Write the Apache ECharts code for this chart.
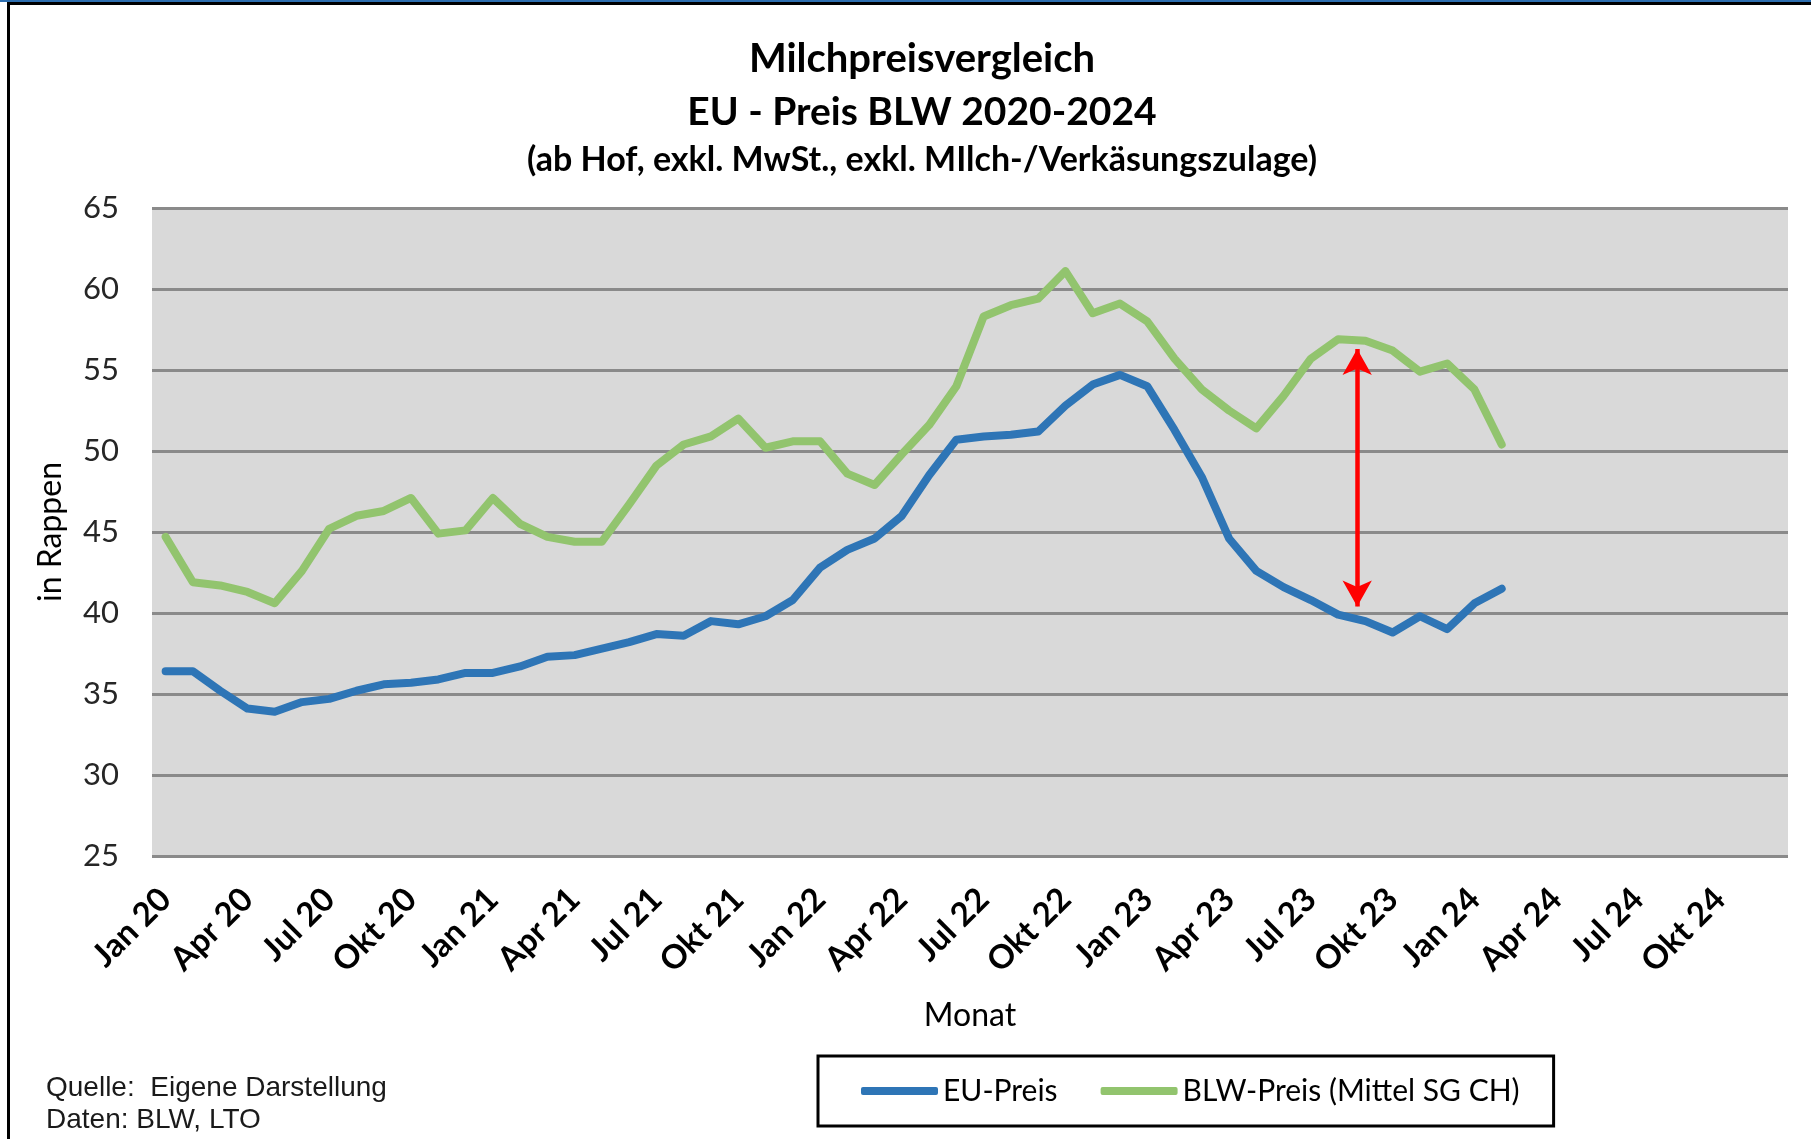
<!DOCTYPE html>
<html>
<head>
<meta charset="utf-8">
<script src="https://cdn.jsdelivr.net/npm/echarts@6/dist/echarts.min.js"></script>
<style>
  html, body { margin: 0; padding: 0; background: #fff; }
  #chart { width: 1811px; height: 1139px; }
</style>
</head>
<body>
<div id="chart"></div>
<script>
// Monate Jan 20 .. Dez 24 (Achse reicht bis Ende 2024)
var monthNames = ['Jan', 'Feb', 'Mär', 'Apr', 'Mai', 'Jun', 'Jul', 'Aug', 'Sep', 'Okt', 'Nov', 'Dez'];
var years = ['20', '21', '22', '23', '24'];

// Werte in Rappen, Jan 20 .. Feb 24
var euPreis = [
    36.4, 36.4, 35.2, 34.1, 33.9, 34.5, 34.7, 35.2, 35.6, 35.7, 35.9, 36.3,
    36.3, 36.7, 37.3, 37.4, 37.8, 38.2, 38.7, 38.6, 39.5, 39.3, 39.8, 40.8,
    42.8, 43.9, 44.6, 46.0, 48.5, 50.7, 50.9, 51.0, 51.2, 52.8, 54.1, 54.7,
    54.0, 51.3, 48.4, 44.6, 42.6, 41.6, 40.8, 39.9, 39.5, 38.8, 39.8, 39.0,
    40.6, 41.5
];
var blwPreis = [
    44.7, 41.9, 41.7, 41.3, 40.6, 42.6, 45.2, 46.0, 46.3, 47.1, 44.9, 45.1,
    47.1, 45.5, 44.7, 44.4, 44.4, 46.7, 49.1, 50.4, 50.9, 52.0, 50.2, 50.6,
    50.6, 48.6, 47.9, 49.8, 51.6, 54.0, 58.3, 59.0, 59.4, 61.1, 58.5, 59.1,
    58.0, 55.7, 53.8, 52.5, 51.4, 53.4, 55.7, 56.9, 56.8, 56.2, 54.9, 55.4,
    53.8, 50.4
];

// roter Doppelpfeil (Abstand EU / BLW), x in Monatsindex
var arrowX = 43.7;
var arrowTop = 56.3;
var arrowBottom = 40.4;

var categories = [];
for (var y = 0; y < years.length; y++) {
    for (var m = 0; m < monthNames.length; m++) {
        categories.push(monthNames[m] + ' ' + years[y]);
    }
}

var font = 'Lato, "Open Sans", sans-serif';
var chart = echarts.init(document.getElementById('chart'), null, { renderer: 'canvas' });

var option = {
    backgroundColor: '#fff',
    animation: false,
    title: [
        { text: 'Milchpreisvergleich', left: 922, top: 59, padding: 0, textAlign: 'center', textVerticalAlign: 'middle',
          textStyle: { fontFamily: font, fontWeight: 'bold', fontSize: 40, color: '#000' } },
        { text: 'EU - Preis BLW 2020-2024', left: 922, top: 112, padding: 0, textAlign: 'center', textVerticalAlign: 'middle',
          textStyle: { fontFamily: font, fontWeight: 'bold', fontSize: 39, color: '#000' } },
        { text: '(ab Hof, exkl. MwSt., exkl. MIlch-/Verkäsungszulage)', left: 922, top: 160, padding: 0, textAlign: 'center', textVerticalAlign: 'middle',
          textStyle: { fontFamily: font, fontWeight: 'bold', fontSize: 34, color: '#000' } }
    ],
    grid: {
        left: 152, right: 23, top: 208, bottom: 283,
        show: true, backgroundColor: '#d9d9d9', borderWidth: 0
    },
    legend: {
        left: 818, top: 1056,
        padding: [20, 34, 20, 43],
        itemGap: 43,
        itemWidth: 77, itemHeight: 8,
        icon: 'roundRect',
        borderColor: '#000', borderWidth: 3,
        textStyle: { fontFamily: font, fontSize: 30, color: '#000' },
        data: ['EU-Preis', 'BLW-Preis (Mittel SG CH)']
    },
    xAxis: [{
        type: 'category',
        data: categories,
        boundaryGap: true,
        name: 'Monat',
        nameLocation: 'middle',
        nameGap: 144,
        nameTextStyle: { fontFamily: font, fontSize: 32, color: '#000' },
        axisLine: { show: false },
        axisTick: { show: false },
        axisLabel: {
            interval: 2, rotate: 45, margin: 38,
            fontFamily: font, fontWeight: 'bold', fontSize: 33, color: '#000'
        },
        splitLine: { show: false }
    }, {
        // Hilfsachse fuer den Pfeil
        type: 'value', min: -0.5, max: 59.5, show: false
    }],
    yAxis: {
        type: 'value',
        min: 25, max: 65, interval: 5,
        name: 'in Rappen',
        nameLocation: 'middle',
        nameGap: 85,
        nameRotate: 90,
        nameTextStyle: { fontFamily: font, fontSize: 32, color: '#000' },
        axisLine: { show: false },
        axisTick: { show: false },
        axisLabel: { margin: 33, fontFamily: font, fontSize: 31, color: '#262626' },
        splitLine: { show: true, lineStyle: { color: '#8a8a8a', width: 3 } }
    },
    series: [{
        name: 'EU-Preis',
        type: 'line',
        data: euPreis,
        symbol: 'none',
        color: '#2e75b6',
        lineStyle: { width: 8, color: '#2e75b6', cap: 'round', join: 'round' }
    }, {
        name: 'BLW-Preis (Mittel SG CH)',
        type: 'line',
        data: blwPreis,
        symbol: 'none',
        color: '#92c46e',
        lineStyle: { width: 8, color: '#92c46e', cap: 'round', join: 'round' }
    }, {
        name: 'Pfeil',
        type: 'line',
        xAxisIndex: 1,
        data: [[arrowX, arrowTop], [arrowX, arrowBottom]],
        symbol: 'none',
        lineStyle: { opacity: 0 },
        silent: true,
        markLine: {
            silent: true,
            symbol: ['arrow', 'arrow'],
            symbolSize: [22, 26],
            label: { show: false },
            lineStyle: { color: '#ff0000', width: 4.5, type: 'solid' },
            data: [[{ coord: [arrowX, arrowTop] }, { coord: [arrowX, arrowBottom] }]]
        }
    }],
    graphic: [
        { type: 'rect', shape: { x: 0, y: 0, width: 1811, height: 2 }, style: { fill: '#2e6fb0' } },
        { type: 'rect', shape: { x: 7, y: 2, width: 1804, height: 3 }, style: { fill: '#000' } },
        { type: 'rect', shape: { x: 7, y: 2, width: 3, height: 1137 }, style: { fill: '#000' } },
        { type: 'text', left: 46, top: 1072,
          style: { text: 'Quelle:  Eigene Darstellung\nDaten: BLW, LTO', font: '28px "Liberation Sans", Arial, sans-serif',
                   fill: '#1a1a1a', lineHeight: 32 } }
    ]
};

chart.setOption(option);
</script>
</body>
</html>
